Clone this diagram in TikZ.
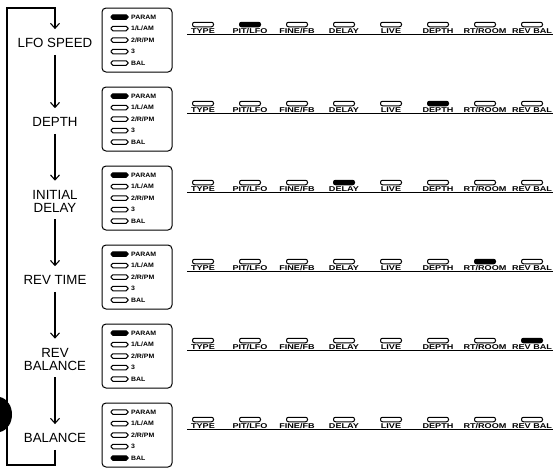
\documentclass[tikz,border=0pt]{standalone}
\usepackage{fontspec}
\setmainfont{Liberation Sans}
\newfontfamily\widefont[FakeStretch=1.3]{Liberation Sans}
\newfontfamily\pfont[FakeStretch=1.1]{Liberation Sans}
\usetikzlibrary{arrows.meta}
\begin{document}
\begin{tikzpicture}[x=1pt,y=-1pt,
  flow/.style={line width=1.1pt, -{Straight Barb[length=5pt,width=9pt,line width=1.1pt]}, shorten <=7pt, shorten >=9pt},
  lbl/.style={inner sep=0pt, align=center, font=\fontsize{13.3}{13}\selectfont},
  panel/.style={draw, line width=1pt, rounded corners=4pt, minimum width=70pt, minimum height=64pt, inner sep=0pt},
  pled/.style={draw, line width=1pt, rounded corners=1.8pt, minimum width=17pt, minimum height=4.5pt, inner sep=0pt},
  led/.style={draw, line width=1pt, rounded corners=2pt, minimum width=21pt, minimum height=4.5pt, inner sep=0pt},
  ptxt/.style={anchor=west, inner sep=0pt, font=\pfont\fontsize{6.3}{6.3}\selectfont\bfseries},
  ltxt/.style={anchor=base, inner sep=0pt, font=\widefont\fontsize{7}{7}\selectfont\bfseries},
  rule/.style={line width=0.9pt},
]
\useasboundingbox (0,0) rectangle (555,469);
\foreach \i/\lab/\pon/\lon in {1/{LFO SPEED}/0/1, 2/DEPTH/0/5, 3/{INITIAL\\DELAY}/0/3, 4/{REV TIME}/0/6, 5/{REV\\BALANCE}/0/7, 6/BALANCE/4/9}{
  \pgfmathsetmacro\cy{40+79*(\i-1)}
  \node[lbl] (l\i) at (55,\cy+3) {\lab};
  \node[panel] (p\i) at (137,\cy) {};
  \foreach \j/\pt in {0/PARAM,1/{1/L/AM},2/{2/R/PM},3/3,4/BAL}{
    \ifnum\j=\pon\def\fc{black}\else\def\fc{white}\fi
    \node[pled, fill=\fc] (pl\i-\j) at (119.5,\cy-23+11.5*\j) {};
    \node[ptxt] (pt\i-\j) at (131,\cy-23+11.5*\j) {\pt};
  }
  \coordinate (ls\i) at (187,\cy-5.2);
  \coordinate (le\i) at (553,\cy-5.2);
  \draw[rule] (ls\i) -- (le\i);
  \foreach \k/\t in {0/TYPE,1/{PIT/LFO},2/{FINE/FB},3/DELAY,4/LIVE,5/DEPTH,6/{RT/ROOM},7/{REV BAL}}{
    \ifnum\k=\lon\def\fc{black}\else\def\fc{white}\fi
    \node[led, fill=\fc] (d\i-\k) at (203+47*\k,\cy-15.5) {};
    \node[ltxt] (t\i-\k) at (203+47*\k,\cy-7) {\t};
  }
}
\foreach \a/\b in {1/2,2/3,3/4,4/5,5/6}
  \draw[flow] (l\a) -- (l\b);
\coordinate (tl) at (7,8);
\coordinate (bl) at (7,465);
\draw[flow] (l6.south) -- (l6.south |- bl) -- (bl) -- (tl) -- (l1.north |- tl) -- (l1.north);
\fill (0,397) .. controls (16,401) and (16,428) .. (0,432) -- cycle;
\end{tikzpicture}
\end{document}
